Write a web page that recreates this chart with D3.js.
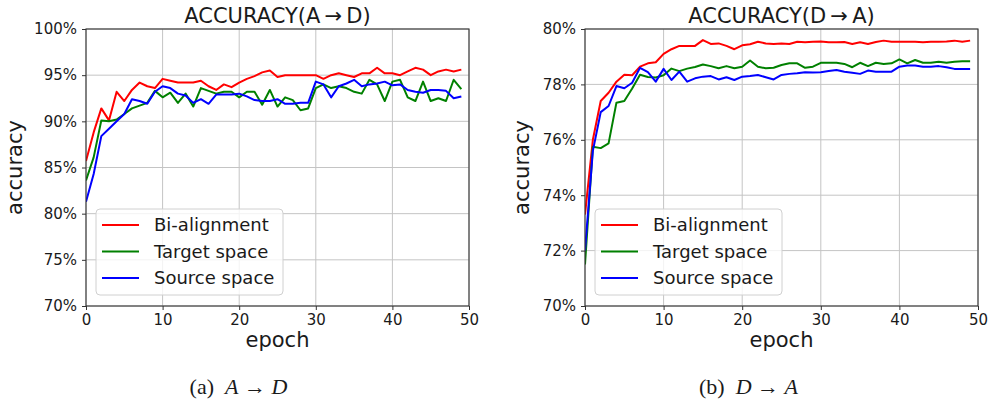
<!DOCTYPE html>
<html>
<head>
<meta charset="utf-8">
<script src="https://cdn.jsdelivr.net/npm/d3@7"></script>
<style>
  body { margin: 0; background: #fff; }
  text { font-family: "DejaVu Sans", sans-serif; fill: #1a1a1a; }
  text.caption { font-family: "Liberation Serif", serif; }
</style>
</head>
<body>
<svg id="chart" width="988" height="402"></svg>
<script>
const epochs = d3.range(0, 50);
const xTicks = [0, 10, 20, 30, 40, 50];
const seriesNames = ["Bi-alignment", "Target space", "Source space"];
const seriesColors = ["#ff0000", "#008000", "#0000ff"];

// A -> D
const adTicks = [70, 75, 80, 85, 90, 95, 100];
const adBi = [85.7, 88.8, 91.4, 90.1, 93.2, 92.2, 93.4, 94.2, 93.8, 93.6,
  94.6, 94.4, 94.2, 94.2, 94.2, 94.4, 93.8, 93.4, 94.0, 93.7,
  94.2, 94.6, 94.9, 95.3, 95.5, 94.8, 95.0, 95.0, 95.0, 95.0,
  95.0, 94.6, 95.0, 95.2, 95.0, 94.8, 95.2, 95.2, 95.8, 95.2,
  95.2, 95.0, 95.4, 95.8, 95.6, 95.0, 95.4, 95.6, 95.4, 95.6];
const adTarget = [83.6, 86.1, 90.1, 90.0, 90.2, 90.8, 91.4, 91.7, 92.0, 93.3,
  92.6, 93.1, 92.0, 93.0, 91.6, 93.6, 93.3, 93.0, 93.2, 93.2,
  92.6, 93.2, 93.2, 91.8, 93.4, 91.6, 92.6, 92.3, 91.2, 91.4,
  93.6, 94.0, 93.6, 93.8, 93.6, 93.2, 93.0, 94.5, 94.0, 92.2,
  94.3, 94.5, 92.6, 92.2, 94.3, 92.2, 92.5, 92.2, 94.5, 93.5];
const adSource = [81.3, 84.3, 88.4, 89.2, 90.0, 90.8, 92.4, 92.2, 91.9, 93.2,
  93.8, 93.6, 93.0, 92.8, 92.0, 92.4, 91.9, 92.9, 92.9, 92.9,
  93.0, 92.7, 92.3, 92.2, 92.2, 92.4, 91.9, 91.9, 92.0, 92.0,
  94.3, 94.0, 92.6, 93.8, 94.1, 94.5, 93.8, 94.0, 94.1, 94.3,
  93.9, 94.0, 93.4, 93.2, 93.1, 93.4, 93.4, 93.3, 92.5, 92.7];

// D -> A
const daTicks = [70, 72, 74, 76, 78, 80];
const daBi = [73.3, 76.0, 77.4, 77.7, 78.1, 78.35, 78.33, 78.64, 78.76, 78.8,
  79.1, 79.27, 79.39, 79.39, 79.39, 79.6, 79.46, 79.48, 79.39, 79.27,
  79.41, 79.45, 79.54, 79.48, 79.46, 79.48, 79.46, 79.54, 79.52, 79.54,
  79.55, 79.52, 79.52, 79.53, 79.46, 79.52, 79.46, 79.53, 79.58, 79.54,
  79.54, 79.54, 79.54, 79.52, 79.54, 79.54, 79.55, 79.58, 79.54, 79.58];
const daTarget = [71.5, 75.75, 75.7, 75.87, 77.34, 77.4, 77.85, 78.35, 78.27, 78.25,
  78.33, 78.57, 78.48, 78.57, 78.63, 78.72, 78.66, 78.58, 78.66, 78.58,
  78.64, 78.86, 78.64, 78.58, 78.6, 78.7, 78.76, 78.76, 78.6, 78.64,
  78.78, 78.78, 78.78, 78.74, 78.62, 78.78, 78.66, 78.78, 78.74, 78.76,
  78.9, 78.76, 78.88, 78.78, 78.78, 78.82, 78.78, 78.82, 78.84, 78.84];
const daSource = [72.0, 75.6, 77.0, 77.22, 77.94, 77.86, 78.06, 78.6, 78.44, 78.1,
  78.56, 78.16, 78.46, 78.1, 78.22, 78.28, 78.3, 78.18, 78.26, 78.16,
  78.28, 78.3, 78.34, 78.26, 78.18, 78.34, 78.38, 78.4, 78.44, 78.43,
  78.44, 78.48, 78.52, 78.46, 78.42, 78.38, 78.5, 78.46, 78.46, 78.46,
  78.64, 78.68, 78.68, 78.64, 78.64, 78.66, 78.62, 78.56, 78.56, 78.56];

const svg = d3.select("#chart");
svg.append("rect").attr("width", 988).attr("height", 402).attr("fill", "#fff");

function drawPanel(cfg, idx) {
  const { left, right, top, bottom } = cfg;
  const x = d3.scaleLinear().domain([0, 50]).range([left, right]);
  const y = d3.scaleLinear().domain(cfg.yDomain).range([bottom, top]);
  const g = svg.append("g");

  // grid
  g.append("g").selectAll("line").data(xTicks).join("line")
    .attr("x1", (d) => x(d)).attr("x2", (d) => x(d))
    .attr("y1", top).attr("y2", bottom)
    .attr("stroke", "#c4c4c4").attr("stroke-width", 1);
  g.append("g").selectAll("line").data(cfg.yTicks).join("line")
    .attr("x1", left).attr("x2", right)
    .attr("y1", (d) => y(d)).attr("y2", (d) => y(d))
    .attr("stroke", "#c4c4c4").attr("stroke-width", 1);

  // lines
  const clipId = "clip" + idx;
  g.append("clipPath").attr("id", clipId).append("rect")
    .attr("x", left).attr("y", top).attr("width", right - left).attr("height", bottom - top);
  const line = d3.line().x((d, i) => x(epochs[i])).y((d) => y(d));
  g.append("g").attr("clip-path", `url(#${clipId})`)
    .selectAll("path").data(cfg.series).join("path")
    .attr("d", line)
    .attr("fill", "none")
    .attr("stroke", (d, i) => seriesColors[i])
    .attr("stroke-width", 2)
    .attr("stroke-linejoin", "round");

  // axes
  const xAxis = d3.axisBottom(x).tickValues(xTicks).tickSize(4).tickPadding(4).tickSizeOuter(0);
  const yAxis = d3.axisLeft(y).tickValues(cfg.yTicks).tickSize(4).tickPadding(5)
    .tickFormat((d) => d + "%").tickSizeOuter(0);
  const gx = g.append("g").attr("transform", `translate(0,${bottom})`).call(xAxis);
  const gy = g.append("g").attr("transform", `translate(${left},0)`).call(yAxis);
  [gx, gy].forEach((a) => {
    a.select(".domain").remove();
    a.selectAll(".tick line").attr("stroke", "#333");
    a.selectAll("text").attr("font-size", 15).attr("font-family", "DejaVu Sans").attr("fill", "#1a1a1a");
  });

  // frame
  g.append("rect")
    .attr("x", left).attr("y", top).attr("width", right - left).attr("height", bottom - top)
    .attr("fill", "none").attr("stroke", "#333").attr("stroke-width", 1.1);

  // title and labels
  g.append("text").attr("x", (left + right) / 2).attr("y", 23)
    .attr("text-anchor", "middle").attr("font-size", 21).text(cfg.title);
  g.append("text").attr("x", (left + right) / 2).attr("y", 347)
    .attr("text-anchor", "middle").attr("font-size", 21).text("epoch");
  g.append("text")
    .attr("transform", `translate(${cfg.yLabelX},${(top + bottom) / 2}) rotate(-90)`)
    .attr("text-anchor", "middle").attr("font-size", 21).text("accuracy");

  // legend
  const lx = left + 10, ly = bottom - 97;
  const lg = g.append("g").attr("transform", `translate(${lx},${ly})`);
  lg.append("rect").attr("width", 187).attr("height", 86).attr("rx", 4)
    .attr("fill", "#fff").attr("fill-opacity", 0.8)
    .attr("stroke", "#d0d0d0").attr("stroke-width", 1);
  const rows = lg.selectAll("g.row").data(seriesNames).join("g")
    .attr("class", "row")
    .attr("transform", (d, i) => `translate(0,${16 + i * 26.5})`);
  rows.append("line").attr("x1", 6).attr("x2", 43)
    .attr("stroke", (d, i) => seriesColors[i]).attr("stroke-width", 2);
  rows.append("text").attr("x", 58).attr("dy", "0.35em")
    .attr("font-size", 18).text((d) => d);

  // caption
  const cap = g.append("text").attr("class", "caption")
    .attr("x", cfg.captionX).attr("y", 394)
    .attr("text-anchor", "middle").attr("font-size", 22);
  cap.append("tspan").text(cfg.captionParts[0] + "\u2002");
  cap.append("tspan").attr("font-style", "italic").text(cfg.captionParts[1]);
  cap.append("tspan").text(" \u2192 ");
  cap.append("tspan").attr("font-style", "italic").text(cfg.captionParts[2]);
}

drawPanel({
  left: 86, right: 469, top: 29, bottom: 306,
  yDomain: [70, 100], yTicks: adTicks,
  series: [adBi, adTarget, adSource],
  title: "ACCURACY(A\u2009\u2192\u2009D)",
  yLabelX: 22, captionX: 238.5, captionParts: ["(a)", "A", "D"]
}, 0);

drawPanel({
  left: 585, right: 978, top: 29, bottom: 306,
  yDomain: [70, 80], yTicks: daTicks,
  series: [daBi, daTarget, daSource],
  title: "ACCURACY(D\u2009\u2192\u2009A)",
  yLabelX: 529, captionX: 748.5, captionParts: ["(b)", "D", "A"]
}, 1);
</script>
</body>
</html>
